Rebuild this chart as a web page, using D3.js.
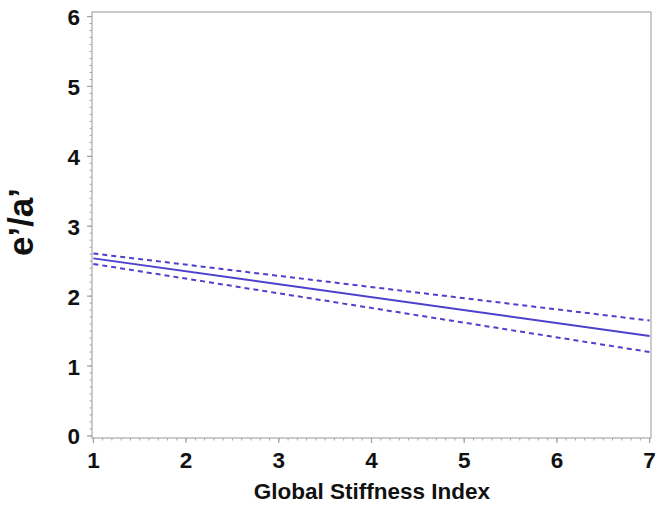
<!DOCTYPE html>
<html><head><meta charset="utf-8">
<script src="https://cdn.jsdelivr.net/npm/d3@7"></script>
<style>body{margin:0;background:#fff}svg{display:block}text{font-family:"Liberation Sans",Arial,sans-serif;font-weight:bold;fill:#111}</style>
</head><body>
<script>
const xEnds = [1, 7];
const fitLine = [2.54, 1.43];
const upperCI = [2.61, 1.65];
const lowerCI = [2.46, 1.20];
const xTicks = [1, 2, 3, 4, 5, 6, 7];
const yTicks = [0, 1, 2, 3, 4, 5, 6];
const xTitle = "Global Stiffness Index";
const yTitle = "e’/a’";

const W = 662, H = 505;
const svg = d3.select("body").append("svg").attr("width", W).attr("height", H);
const x = d3.scaleLinear().domain([0.985, 7.015]).range([92, 651]);
const y = d3.scaleLinear().domain([-0.03, 6.065]).range([438, 12]);

// frame
svg.append("rect").attr("x", 92).attr("y", 12).attr("width", 559).attr("height", 426)
  .attr("fill", "none").attr("stroke", "#a8a8a8").attr("stroke-width", 1.2);

// minor ticks
const xMinor = d3.range(10, 71).map(d => d / 10);
const yMinor = d3.range(0, 61).map(d => d / 10);
const xa = svg.append("g").attr("transform", "translate(0,438)");
xa.selectAll("line.mn").data(xMinor).join("line")
  .attr("x1", d => x(d)).attr("x2", d => x(d)).attr("y1", 0).attr("y2", 2.5)
  .attr("stroke", "#a8a8a8").attr("stroke-width", 1);
xa.selectAll("line.mj").data(xTicks).join("line")
  .attr("x1", d => x(d)).attr("x2", d => x(d)).attr("y1", 0).attr("y2", 5)
  .attr("stroke", "#a0a0a0").attr("stroke-width", 1.2);
xa.selectAll("text").data(xTicks).join("text")
  .attr("x", d => x(d)).attr("y", 30).attr("text-anchor", "middle")
  .attr("font-size", 22.5).text(d => d);

const ya = svg.append("g").attr("transform", "translate(92,0)");
ya.selectAll("line.mn").data(yMinor).join("line")
  .attr("x1", 0).attr("x2", -2.5).attr("y1", d => y(d)).attr("y2", d => y(d))
  .attr("stroke", "#a8a8a8").attr("stroke-width", 1);
ya.selectAll("line.mj").data(yTicks).join("line")
  .attr("x1", 0).attr("x2", -5).attr("y1", d => y(d)).attr("y2", d => y(d))
  .attr("stroke", "#a0a0a0").attr("stroke-width", 1.2);
ya.selectAll("text").data(yTicks).join("text")
  .attr("x", -12).attr("y", d => y(d) + 8.5).attr("text-anchor", "end")
  .attr("font-size", 22.5).text(d => d);

svg.append("text").attr("x", 372).attr("y", 499).attr("text-anchor", "middle")
  .attr("font-size", 22.5).text(xTitle);
svg.append("text").attr("transform", "translate(33,222) rotate(-90)")
  .attr("text-anchor", "middle").attr("font-size", 35).text(yTitle);

const line = d3.line().x(d => x(d[0])).y(d => y(d[1]));
const col = "#4d40cc";
const mk = v => xEnds.map((xv, i) => [xv, v[i]]);
svg.append("path").attr("d", line(mk(upperCI))).attr("fill", "none")
  .attr("stroke", col).attr("stroke-width", 2).attr("stroke-dasharray", "5,4");
svg.append("path").attr("d", line(mk(lowerCI))).attr("fill", "none")
  .attr("stroke", col).attr("stroke-width", 2).attr("stroke-dasharray", "5,4");
svg.append("path").attr("d", line(mk(fitLine))).attr("fill", "none")
  .attr("stroke", col).attr("stroke-width", 2);
</script>
</body></html>
